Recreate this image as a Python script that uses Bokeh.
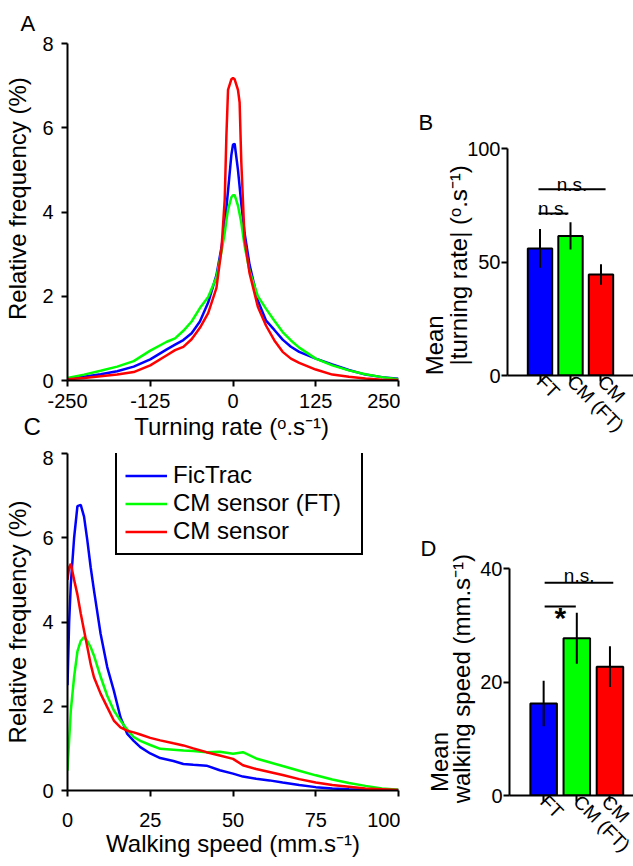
import numpy as np
from bokeh.plotting import figure
from bokeh.layouts import column, row
from bokeh.models import FixedTicker, Legend, LegendItem, Range1d, LinearAxis, Title
from bokeh.core.properties import value
from bokeh.embed import file_html
from bokeh.resources import INLINE

FONT = "Liberation Sans"
BLUE, GREEN, RED = "#0000ff", "#00ff00", "#ff0000"
NB = "\u00a0"

# ---------------- data ----------------
# Panel A: turning rate distribution (deg/s) -> relative frequency (%)
turn_x = [-250, -225, -200, -175, -150, -125, -100, -87.5, -75, -62.5, -50, -37.5, -25,
          -17.5, -12.5, -10, -7.5, -2.5, 0, 2.5, 7.5, 10, 12.5, 17.5, 25, 37.5, 50,
          62.5, 75, 87.5, 100, 125, 150, 175, 200, 225, 250]
turn_fictrac = [0.05, 0.09, 0.15, 0.22, 0.33, 0.50, 0.74, 0.85, 0.96, 1.12, 1.40, 1.85, 2.5,
                3.15, 3.7, 4.1, 4.5, 5.35, 5.6, 5.62, 5.0, 4.6, 4.2, 3.5, 2.75, 1.9, 1.42,
                1.2, 0.97, 0.8, 0.68, 0.52, 0.38, 0.25, 0.14, 0.08, 0.04]
turn_cm_ft = [0.06, 0.14, 0.23, 0.33, 0.46, 0.71, 0.92, 1.0, 1.18, 1.4, 1.72, 1.98, 2.45,
              3.05, 3.5, 3.8, 4.05, 4.35, 4.4, 4.4, 4.15, 3.95, 3.75, 3.2, 2.6, 2.0, 1.7,
              1.42, 1.15, 0.95, 0.78, 0.52, 0.36, 0.24, 0.15, 0.08, 0.03]
turn_cm = [0.03, 0.06, 0.10, 0.14, 0.20, 0.36, 0.60, 0.72, 0.80, 0.98, 1.25, 1.6, 2.2,
           3.1, 4.3, 5.8, 6.9, 7.15, 7.18, 7.15, 6.9, 6.6, 5.2, 3.35, 2.55, 1.75, 1.3,
           0.95, 0.68, 0.52, 0.42, 0.26, 0.14, 0.09, 0.05, 0.02, 0.01]
turn_ticks = [-250, -125, 0, 125, 250]
turn_tick_labels = ["-250", "-125", "0", "125", "250"]

# Panel C: walking speed distribution (mm/s) -> relative frequency (%)
speed_x = [0, 0.5, 1, 2, 3, 4, 5, 6, 7, 8, 10, 12, 14, 16, 18, 20, 22, 25, 28, 32, 35, 38,
           42, 46, 50, 53, 57, 61, 65, 70, 75, 80, 85, 90, 95, 100]
speed_fictrac = [2.5, 4.0, 4.9, 6.0, 6.75, 6.78, 6.5, 5.93, 5.3, 4.75, 3.72, 2.93, 2.37, 1.74,
                 1.35, 1.18, 1.03, 0.88, 0.77, 0.70, 0.63, 0.61, 0.59, 0.48, 0.40, 0.33,
                 0.28, 0.24, 0.19, 0.13, 0.08, 0.05, 0.03, 0.02, 0.01, 0.01]
speed_cm_ft = [0.47, 1.2, 1.9, 2.7, 3.3, 3.55, 3.64, 3.55, 3.4, 3.2, 2.7, 2.25, 1.9, 1.66,
               1.45, 1.27, 1.18, 1.08, 0.99, 0.97, 0.95, 0.94, 0.91, 0.92, 0.87, 0.91,
               0.76, 0.67, 0.58, 0.47, 0.36, 0.26, 0.18, 0.11, 0.05, 0.02]
speed_cm = [5.0, 5.3, 5.38, 5.0, 4.65, 4.2, 3.8, 3.4, 3.0, 2.69, 2.3, 1.98, 1.66, 1.5,
            1.42, 1.38, 1.33, 1.25, 1.19, 1.12, 1.07, 1.0, 0.91, 0.83, 0.75, 0.6, 0.51,
            0.44, 0.37, 0.27, 0.19, 0.13, 0.09, 0.05, 0.03, 0.01]

series_names = ["FicTrac", "CM sensor (FT)", "CM sensor"]

# Panels B and D: bar charts
bar_labels = ["FT", "CM (FT)", "CM"]
bar_pos = [1, 2, 3]
bar_colors = [BLUE, GREEN, RED]
turn_mean = [56.0, 61.5, 44.5]
turn_err = [8.5, 6.0, 4.5]
speed_mean = [16.2, 27.7, 22.7]
speed_err = [4.0, 4.5, 3.6]


# ---------------- helpers ----------------
def style(p, xticks, yticks, tick_size="20px", xstand=7, ystand=8):
    p.outline_line_color = None
    p.xgrid.visible = False
    p.ygrid.visible = False
    p.background_fill_color = "white"
    p.border_fill_color = "white"
    for ax in (p.xaxis[0], p.yaxis[0]):
        ax.axis_line_width = 2
        ax.axis_line_color = "black"
        ax.major_tick_line_width = 2
        ax.major_tick_line_color = "black"
        ax.major_tick_in = 0
        ax.major_tick_out = 6
        ax.minor_tick_line_color = None
        ax.major_label_text_font = FONT
        ax.major_label_text_font_size = tick_size
        ax.major_label_text_color = "black"
        ax.axis_label_text_font = FONT
        ax.axis_label_text_font_size = "24px"
        ax.axis_label_text_font_style = "normal"
        ax.axis_label_text_color = "black"
    p.xaxis[0].ticker = FixedTicker(ticks=xticks)
    p.yaxis[0].ticker = FixedTicker(ticks=yticks)
    p.xaxis[0].major_label_standoff = xstand
    p.yaxis[0].major_label_standoff = ystand


def panel_title(p, txt, offset, standoff):
    p.title.text = txt
    p.title.align = "left"
    p.title.offset = offset
    p.title.standoff = standoff
    p.title.text_font = FONT
    p.title.text_font_size = "22px"
    p.title.text_font_style = "normal"
    p.title.text_color = "black"


def two_line_ylabel(p, main_text, mean_text, main_standoff, mean_standoff):
    """Two-line y title: the main axis label plus an outer tick-less axis
    that only carries the first line ("Mean")."""
    ax = p.yaxis[0]
    extra = LinearAxis(ticker=FixedTicker(ticks=[]))
    extra.axis_line_color = None
    extra.major_tick_line_color = None
    extra.major_tick_out = 0
    extra.major_tick_in = 0
    extra.minor_tick_line_color = None
    extra.major_label_standoff = 0
    extra.axis_label_text_font = FONT
    extra.axis_label_text_font_size = "24px"
    extra.axis_label_text_font_style = "normal"
    extra.axis_label_text_color = "black"
    extra.axis_label_standoff = mean_standoff
    ax.axis_label_standoff = main_standoff
    ax.axis_label = main_text
    extra.axis_label = mean_text
    p.add_layout(extra, "left")


def bar_xaxis(p):
    ax = p.xaxis[0]
    ax.major_label_overrides = dict(zip(bar_pos, bar_labels))
    ax.major_label_orientation = -np.pi / 4
    ax.major_label_text_font_size = "19px"
    ax.major_label_standoff = -3


common = dict(output_backend="svg", toolbar_location=None, frame_align=False)

# ---------------- Panel A ----------------
pA = figure(width=400, height=450, x_range=Range1d(-250, 250), y_range=Range1d(0, 8),
            min_border_left=67, min_border_right=2, min_border_top=43, min_border_bottom=70,
            **common)
style(pA, turn_ticks, [0, 2, 4, 6, 8], xstand=7, ystand=8)
pA.xaxis[0].major_label_overrides = dict(zip(turn_ticks, turn_tick_labels))
pA.yaxis[0].axis_label = NB * 4 + "Relative frequency (%)"
pA.yaxis[0].axis_label_standoff = 8
pA.line(turn_x, turn_fictrac, line_color=BLUE, line_width=2.5)
pA.line(turn_x, turn_cm_ft, line_color=GREEN, line_width=2.5)
pA.line(turn_x, turn_cm, line_color=RED, line_width=2.5)
panel_title(pA, "A", -47, 15)
# x title of panel A, sharing its row with the letter of panel C
xt = Title(text="C" + NB * 14 + "Turning rate (ᵒ.s⁻¹)", align="left", offset=-44,
           standoff=0, text_font=FONT, text_font_size="24px", text_font_style="normal",
           text_color="black")
pA.add_layout(xt, "below")

# ---------------- Panel B ----------------
pB = figure(width=233, height=450, x_range=Range1d(-0.066, 4.066), y_range=Range1d(0, 100),
            min_border_left=107, min_border_right=0, min_border_top=148, min_border_bottom=75,
            **common)
style(pB, bar_pos, [0, 50, 100], xstand=2, ystand=1)
bar_xaxis(pB)
pB.vbar(x=bar_pos, top=turn_mean, width=0.8, fill_color=bar_colors,
        line_color="black", line_width=2)
pB.segment(x0=bar_pos, y0=[m - e for m, e in zip(turn_mean, turn_err)],
           x1=bar_pos, y1=[m + e for m, e in zip(turn_mean, turn_err)],
           line_color="black", line_width=2)
pB.segment(x0=[0.95, 0.95], y0=[71.4, 82.0], x1=[1.93, 3.15], y1=[71.4, 82.0],
           line_color="black", line_width=2)
pB.text(x=[1.44, 2.05], y=[73.4, 84.0], text=["n.s.", "n.s."], text_font=value(FONT),
        text_font_size="19px", text_align="center", text_baseline="alphabetic",
        text_color="black")
panel_title(pB, "B", -89, 28)
two_line_ylabel(pB, "|turning rate| (ᵒ.s⁻¹)" + NB, "Mean" + NB * 25, -8, -5)

# ---------------- Panel C ----------------
pC = figure(width=400, height=416, x_range=Range1d(0, 100), y_range=Range1d(0, 8),
            min_border_left=67, min_border_right=2, min_border_top=3, min_border_bottom=76,
            **common)
style(pC, [0, 25, 50, 75, 100], [0, 2, 4, 6, 8], xstand=16, ystand=8)
pC.xaxis[0].axis_label = "Walking speed (mm.s⁻¹)"
pC.xaxis[0].axis_label_standoff = 0
pC.yaxis[0].axis_label = "Relative frequency (%)"
pC.yaxis[0].axis_label_standoff = 8
rb = pC.line(speed_x, speed_fictrac, line_color=BLUE, line_width=2.5)
rg = pC.line(speed_x, speed_cm_ft, line_color=GREEN, line_width=2.5)
rr = pC.line(speed_x, speed_cm, line_color=RED, line_width=2.5)
legend = Legend(items=[LegendItem(label=series_names[0], renderers=[rb]),
                       LegendItem(label=series_names[1], renderers=[rg]),
                       LegendItem(label=series_names[2], renderers=[rr])],
                location=(48, 235))
legend.label_text_font = FONT
legend.label_text_font_size = "24px"
legend.label_text_color = "black"
legend.glyph_width = 42
legend.glyph_height = 27
legend.label_height = 27
legend.label_width = 180
legend.label_standoff = 6
legend.spacing = 0
legend.padding = 8
legend.margin = 0
legend.border_line_color = "black"
legend.border_line_alpha = 1.0
legend.border_line_width = 2
legend.background_fill_alpha = 1.0
pC.add_layout(legend)

# ---------------- Panel D ----------------
pD = figure(width=233, height=416, x_range=Range1d(-0.03, 3.71), y_range=Range1d(0, 40),
            min_border_left=109, min_border_right=0, min_border_top=118, min_border_bottom=71,
            **common)
style(pD, bar_pos, [0, 20, 40], xstand=2, ystand=1)
bar_xaxis(pD)
pD.vbar(x=bar_pos, top=speed_mean, width=0.8, fill_color=bar_colors,
        line_color="black", line_width=2)
pD.segment(x0=bar_pos, y0=[m - e for m, e in zip(speed_mean, speed_err)],
           x1=bar_pos, y1=[m + e for m, e in zip(speed_mean, speed_err)],
           line_color="black", line_width=2)
pD.segment(x0=[1.03, 1.03], y0=[33.3, 37.5], x1=[1.97, 3.1], y1=[33.3, 37.5],
           line_color="black", line_width=2)
pD.text(x=[2.07], y=[38.8], text=["n.s."], text_font=value(FONT),
        text_font_size="19px", text_align="center", text_baseline="alphabetic",
        text_color="black")
pD.text(x=[1.5], y=[31.4], text=["*"], text_font=value(FONT), text_font_size="30px",
        text_font_style="bold", text_align="center", text_baseline="alphabetic",
        text_color="black")
panel_title(pD, "D", -89, 15)
two_line_ylabel(pD, NB + "walking speed (mm.s⁻¹)", "Mean" + NB * 24, 2, -7)

layout = column(row(pA, pB), row(pC, pD))
open("out.html", "w").write(file_html(layout, INLINE))
